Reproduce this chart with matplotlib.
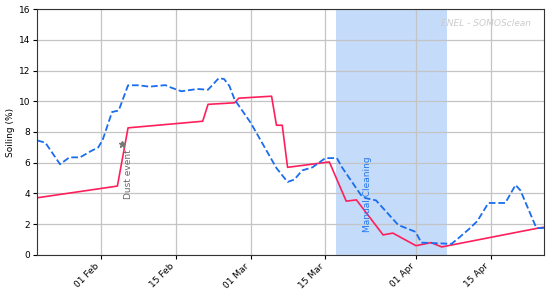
import matplotlib
matplotlib.use('Agg')
import pandas as pd
import matplotlib.pyplot as plt
import matplotlib.dates as mdates

# Данные
blue_dates = ['2021-01-20', '2021-01-21 12:00', '2021-01-24 06:00', '2021-01-26', '2021-01-28',
              '2021-01-30', '2021-01-31 10:00', '2021-02-01 06:00', '2021-02-03', '2021-02-04 06:00',
              '2021-02-06', '2021-02-08', '2021-02-10', '2021-02-13', '2021-02-14',
              '2021-02-16', '2021-02-19', '2021-02-21', '2021-02-23', '2021-02-24',
              '2021-02-25', '2021-02-26', '2021-03-01', '2021-03-05 20:00', '2021-03-07 22:00',
              '2021-03-09 04:00', '2021-03-10 16:00', '2021-03-12 14:00', '2021-03-15', '2021-03-17 04:00',
              '2021-03-18 03:00', '2021-03-21 16:00', '2021-03-22 12:00', '2021-03-24 12:00', '2021-03-28 16:00',
              '2021-03-31 22:00', '2021-04-02', '2021-04-07 16:00', '2021-04-09', '2021-04-11',
              '2021-04-12 12:00', '2021-04-14 14:00', '2021-04-17 18:00', '2021-04-19 16:00', '2021-04-20 14:00',
              '2021-04-23 14:00', '2021-04-25']
blue_vals = [7.45, 7.3, 5.9, 6.35, 6.35,
             6.75, 7.0, 7.5, 9.3, 9.4,
             11.04, 11.04, 10.95, 11.05, 10.9,
             10.65, 10.8, 10.75, 11.5, 11.45,
             11.0, 10.1, 8.6, 5.65, 4.75,
             4.9, 5.5, 5.7, 6.3, 6.3,
             5.7, 3.9, 3.7, 3.55, 1.95,
             1.5, 0.8, 0.72, 1.1, 1.7,
             2.2, 3.38, 3.38, 4.55, 4.2,
             1.75, 1.75]

red_dates = ['2021-01-20', '2021-02-04', '2021-02-06', '2021-02-20', '2021-02-21',
             '2021-02-26', '2021-02-26 18:00', '2021-03-04 22:00', '2021-03-05 20:00', '2021-03-06 22:00',
             '2021-03-07 22:00', '2021-03-15 18:00', '2021-03-18 22:00', '2021-03-20 20:00', '2021-03-25 20:00',
             '2021-03-27 16:00', '2021-04-01', '2021-04-03 20:00', '2021-04-05 20:00', '2021-04-24',
             '2021-04-25']
red_vals = [3.72, 4.48, 8.27, 8.7, 9.8,
            9.9, 10.2, 10.33, 8.44, 8.44,
            5.7, 6.05, 3.5, 3.58, 1.3,
            1.42, 0.6, 0.8, 0.52, 1.75,
            1.8]

dust_date = '2021-02-04 22:00'
dust_val = 7.2
cleaning_start = '2021-03-17'
cleaning_end = '2021-04-06 20:00'

blue = pd.Series(blue_vals, index=pd.to_datetime(blue_dates, format='mixed'))
red = pd.Series(red_vals, index=pd.to_datetime(red_dates, format='mixed'))

fig, ax = plt.subplots(figsize=(5.5, 2.93), dpi=100)
fig.subplots_adjust(left=0.068, right=0.989, bottom=0.13, top=0.969)

ax.axvspan(pd.Timestamp(cleaning_start), pd.Timestamp(cleaning_end), color='#c4dbfa', lw=0)
ax.plot(red.index, red.values, color='#ff1f5b', lw=1.2)
ax.plot(blue.index, blue.values, color='#1a6cf0', lw=1.3, ls='--')

ax.plot(pd.Timestamp(dust_date), dust_val, marker='*', color='#777777', ms=5, ls='none')
ax.text(pd.Timestamp('2021-02-06'), 6.85, 'Dust event', rotation=90, ha='center', va='top',
        color='#666666', fontsize=6.5)
ax.text(pd.Timestamp('2021-03-22 20:00'), 6.4, 'Manual Cleaning', rotation=90, ha='center', va='top',
        color='#2277ee', fontsize=6.5)
ax.text(0.975, 0.94, 'ENEL - SOMOSclean', transform=ax.transAxes, ha='right', va='center',
        color='#cccccc', fontsize=6.5, style='italic')

ax.set_xlim(pd.Timestamp('2021-01-20'), pd.Timestamp('2021-04-25'))
ax.set_ylim(0, 16)
ax.set_yticks(range(0, 17, 2))
ax.set_xticks(pd.to_datetime(['2021-02-01', '2021-02-15', '2021-03-01', '2021-03-15',
                              '2021-04-01', '2021-04-15']))
ax.xaxis.set_major_formatter(mdates.DateFormatter('%d %b'))
plt.setp(ax.get_xticklabels(), rotation=45, ha='right')
ax.tick_params(labelsize=6.5, length=3, pad=2)
ax.set_ylabel('Soiling (%)', fontsize=6.5, labelpad=3)
ax.grid(True, color='#c4c4c4', lw=0.9)
for s in ax.spines.values():
    s.set_color('#333333')

plt.savefig('out.png', dpi=100)
